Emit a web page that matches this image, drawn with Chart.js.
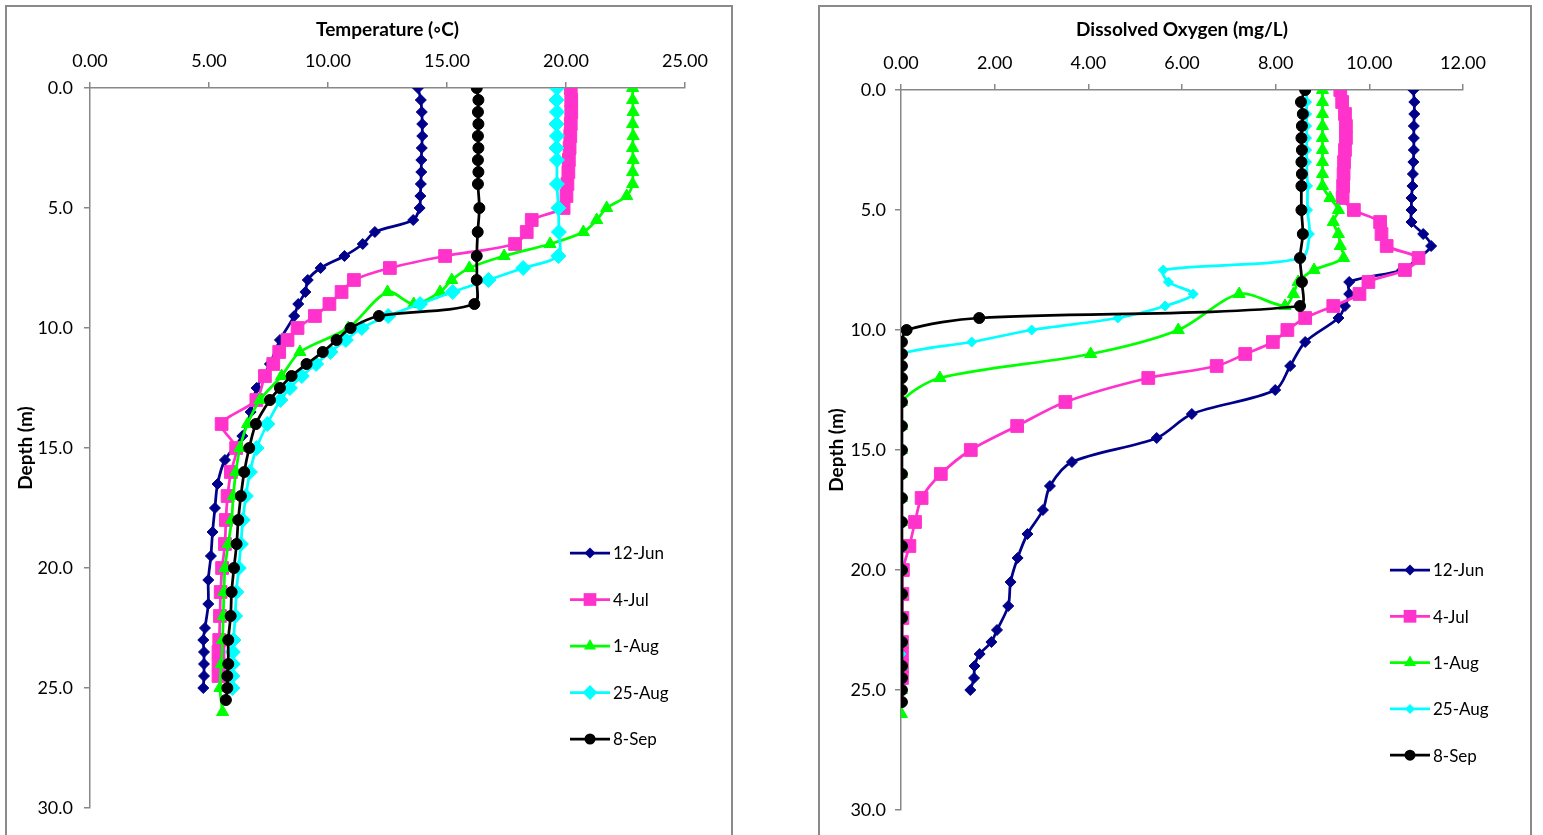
<!DOCTYPE html>
<html>
<head>
<meta charset="utf-8">
<script src="https://cdn.jsdelivr.net/npm/chart.js@4.4.1/dist/chart.umd.min.js"></script>
<style>
  body { margin: 0; background: #fff; width: 1543px; height: 835px; overflow: hidden; position: relative; }
  .box { position: absolute; top: 5px; height: 900px; border: 2px solid #8a8a8a; background: #fff; }
  #boxT { left: 5px; width: 724px; }
  #boxO { left: 818px; width: 710px; }
  canvas { display: block; }
</style>
</head>
<body>
<div class="box" id="boxT"><canvas id="tempChart" width="724" height="830"></canvas></div>
<div class="box" id="boxO"><canvas id="oxyChart" width="710" height="830"></canvas></div>
<script>
// sampling dates
const labels = ['12-Jun', '4-Jul', '1-Aug', '25-Aug', '8-Sep'];

// depths (m) of each profile
const depthJun12 = [0,0.5,1,1.5,2,2.5,3,3.5,4,4.5,5,5.5,6,6.5,7,7.5,8,8.5,9,9.5,
  10.5,11.5,12.5,13.5,14.5,15.5,16.5,17.5,18.5,19.5,20.5,21.5,22.5,23,23.5,24,24.5,25];
const depthJul4 = [0,0.5,1,1.5,2,2.5,3,3.5,4,4.5,5,5.5,6,6.5,7,7.5,8,8.5,9,9.5,10,10.5,11,11.5,12,
  13,14,15,16,17,18,19,20,21,22,23,23.5,24,24.5];
const depthAug1 = [0,0.5,1,1.5,2,2.5,3,3.5,4,4.5,5,5.5,6,6.5,7,7.5,8,8.5,9,8.5,
  10,11,12,13,14,15,16,17,18,19,20,21,22,23,24,25,26];
const depthAug25 = [0,0.5,1,1.5,2,2.5,3,4,5,6,7,7.5,8,8.5,9,9.5,10,10.5,11,11.5,12,12.5,13,
  14,15,16,17,18,19,20,21,22,23,23.5,24,24.5,25];
const depthSep8 = [0,0.5,1,1.5,2,2.5,3,3.5,4,5,6,7,8,9,9.5,10,10.5,11,11.5,12,12.5,13,
  14,15,16,17,18,19,20,21,22,23,24,24.5,25,25.5];

// temperature (C)
const tempJun12 = [13.78,13.9,13.94,13.96,13.96,13.94,13.92,13.92,13.9,13.88,13.85,13.58,11.97,11.46,10.69,9.69,9.15,9.05,8.75,8.58,
  7.98,7.56,7.0,6.75,6.4,5.67,5.36,5.25,5.15,5.08,4.97,4.97,4.83,4.76,4.79,4.79,4.79,4.76];
const tempJul4 = [20.2,20.22,20.22,20.2,20.18,20.15,20.12,20.1,20.06,20.02,19.9,18.56,18.35,17.86,14.92,12.6,11.09,10.57,10.06,9.45,8.72,8.3,7.95,7.7,7.35,
  6.99,5.53,6.14,5.92,5.78,5.71,5.67,5.55,5.49,5.46,5.43,5.4,5.4,5.4];
const tempAug1 = [22.8,22.8,22.82,22.8,22.82,22.8,22.82,22.8,22.8,22.55,21.71,21.29,20.73,19.33,17.4,15.94,15.2,14.71,13.6,12.5,
  10.85,8.82,8.05,7.14,6.62,6.3,6.13,6.02,5.95,5.81,5.67,5.63,5.6,5.57,5.52,5.46,5.57];
const tempAug25 = [19.62,19.6,19.62,19.6,19.62,19.6,19.62,19.62,19.68,19.7,19.68,18.2,16.74,15.24,13.87,12.53,11.42,10.75,10.1,9.5,8.9,8.4,8.0,
  7.45,7.0,6.72,6.55,6.42,6.34,6.25,6.15,6.1,6.03,6.0,6.0,5.98,5.98];
const tempSep8 = [16.25,16.32,16.3,16.32,16.3,16.32,16.3,16.32,16.3,16.36,16.29,16.25,16.25,16.15,12.14,10.95,10.36,9.78,9.1,8.47,7.98,7.56,
  6.97,6.69,6.48,6.34,6.23,6.16,6.05,5.95,5.91,5.81,5.81,5.77,5.77,5.71];

// dissolved oxygen (mg/L)
const doJun12 = [10.94,10.96,10.96,10.95,10.95,10.95,10.94,10.93,10.92,10.9,10.9,10.9,11.15,11.32,11.05,10.7,9.57,9.57,9.48,9.34,
  8.63,8.31,7.99,6.21,5.46,3.65,3.18,3.03,2.7,2.49,2.34,2.29,2.05,1.93,1.68,1.57,1.56,1.48];
const doJul4 = [9.38,9.42,9.48,9.5,9.5,9.48,9.46,9.45,9.44,9.43,9.67,10.23,10.26,10.37,11.05,10.76,9.98,9.79,9.23,8.63,8.25,7.94,7.35,6.74,5.28,
  3.51,2.48,1.49,0.85,0.44,0.3,0.18,0.04,0.03,0.03,0.02,0.02,0.02,0.02];
const doAug1 = [9.0,9.0,9.0,9.0,9.0,9.0,9.0,9.0,9.0,9.16,9.34,9.23,9.34,9.38,9.45,8.82,8.48,8.38,8.2,7.22,
  5.92,4.05,0.83,0.01,0.01,0.01,0.01,0.01,0.01,0.01,0.01,0.01,0.01,0.01,0.01,0.01,0.01];
const doAug25 = [8.66,8.66,8.66,8.66,8.66,8.66,8.66,8.68,8.68,8.72,8.55,5.6,5.71,6.24,5.64,4.63,2.79,1.51,0.0,0.0,0.0,0.0,0.0,
  0.0,0.0,0.0,0.0,0.0,0.0,0.0,0.0,0.0,0.0,0.0,0.0,0.0,0.0];
const doSep8 = [8.63,8.54,8.58,8.56,8.55,8.56,8.55,8.56,8.55,8.55,8.58,8.52,8.56,8.52,1.67,0.12,0.02,0.02,0.02,0.02,0.02,0.02,
  0.02,0.02,0.02,0.02,0.02,0.02,0.02,0.02,0.02,0.02,0.02,0.02,0.02,0.02];

const depths = [depthJun12, depthJul4, depthAug1, depthAug25, depthSep8];
const colors = ['#00008B', '#FF33CC', '#00FF00', '#00FFFF', '#000000'];
const markers = ['rectRot', 'rect', 'triangle', 'rectRot', 'circle'];

Chart.defaults.font.family = 'Lato, "Open Sans", sans-serif';
Chart.defaults.color = '#000';

function pts(d, v) {
  return d.map((y, i) => ({x: v[i], y: y}));
}

function drawMarker(ctx, style, x, y, r) {
  ctx.beginPath();
  if (style === 'circle') {
    ctx.arc(x, y, r, 0, Math.PI * 2);
  } else if (style === 'rect') {
    const s = Math.SQRT1_2 * r;
    ctx.rect(x - s, y - s, 2 * s, 2 * s);
  } else if (style === 'rectRot') {
    ctx.moveTo(x - r, y); ctx.lineTo(x, y - r); ctx.lineTo(x + r, y); ctx.lineTo(x, y + r);
  } else if (style === 'triangle') {
    let a = 0;
    ctx.moveTo(x + Math.sin(a) * r, y - Math.cos(a) * r);
    a += 2 * Math.PI / 3;
    ctx.lineTo(x + Math.sin(a) * r, y - Math.cos(a) * r);
    a += 2 * Math.PI / 3;
    ctx.lineTo(x + Math.sin(a) * r, y - Math.cos(a) * r);
  }
  ctx.closePath();
  ctx.fill();
}

// legend drawn inside the plot area, bottom right
const insideLegend = {
  id: 'insideLegend',
  afterDatasetsDraw(chart, args, opts) {
    const ctx = chart.ctx;
    ctx.save();
    chart.data.datasets.forEach((ds, i) => {
      const x = opts.left, y = opts.top + i * opts.step;
      ctx.strokeStyle = ds.borderColor;
      ctx.fillStyle = ds.borderColor;
      ctx.lineWidth = ds.borderWidth;
      ctx.beginPath();
      ctx.moveTo(x, y);
      ctx.lineTo(x + 40, y);
      ctx.stroke();
      drawMarker(ctx, ds.pointStyle, x + 20, y, ds.pointRadius);
      ctx.fillStyle = '#000';
      ctx.font = '17px Lato';
      ctx.textBaseline = 'middle';
      ctx.textAlign = 'left';
      ctx.fillText(ds.label, x + 43, y + 1);
    });
    ctx.restore();
  }
};

function makeDatasets(values, sizes) {
  return labels.map((lab, i) => ({
    label: lab,
    data: pts(depths[i], values[i]),
    showLine: true,
    borderColor: colors[i],
    backgroundColor: colors[i],
    pointBackgroundColor: colors[i],
    pointBorderColor: colors[i],
    pointBorderWidth: 1,
    borderWidth: 2.75,
    pointStyle: markers[i],
    pointRadius: sizes[i],
    tension: 0.3,
    order: labels.length - i,
  }));
}

function makeConfig(opt) {
  return {
    type: 'scatter',
    data: { datasets: makeDatasets(opt.values, opt.sizes) },
    options: {
      responsive: false,
      animation: false,
      events: [],
      layout: { padding: { left: 0, top: 0, right: opt.padRight, bottom: opt.padBottom } },
      plugins: {
        legend: { display: false },
        tooltip: { enabled: false },
        insideLegend: opt.legend,
      },
      scales: {
        x: {
          type: 'linear',
          position: 'top',
          min: 0,
          max: opt.xMax,
          afterFit: (s) => { s.height = opt.xHeight; },
          ticks: {
            stepSize: opt.xStep,
            padding: 10,
            font: { size: 18 },
            callback: (v) => v.toFixed(2),
          },
          grid: { drawOnChartArea: false, drawTicks: true, tickLength: 6, color: '#888', lineWidth: 1.5 },
          border: { display: true, color: '#888', width: 1.5 },
          title: {
            display: true,
            text: opt.xTitle,
            font: { size: 19, weight: 'bold' },
            padding: { top: 11, bottom: 0 },
          },
        },
        y: {
          type: 'linear',
          reverse: true,
          min: 0,
          max: 30,
          afterFit: (s) => { s.width = opt.yWidth; },
          ticks: {
            stepSize: 5,
            padding: opt.yPad,
            font: { size: 18 },
            callback: (v) => v.toFixed(1),
          },
          grid: { drawOnChartArea: false, drawTicks: true, tickLength: 6, color: '#888', lineWidth: 1.5 },
          border: { display: true, color: '#888', width: 1.5 },
          title: {
            display: true,
            text: 'Depth (m)',
            font: { size: 19, weight: 'bold' },
            padding: { top: opt.yTitlePad, bottom: 0 },
          },
        },
      },
    },
    plugins: [insideLegend],
  };
}

const tempChart = new Chart(document.getElementById('tempChart'), makeConfig({
  values: [tempJun12, tempJul4, tempAug1, tempAug25, tempSep8],
  sizes: [5.5, 9, 7, 7.5, 5.5],
  xMax: 25, xStep: 5, xTitle: 'Temperature (\u25E6C)',
  xHeight: 81, yWidth: 83, padRight: 46, padBottom: 29, yPad: 11, yTitlePad: 7,
  legend: { left: 563, top: 546, step: 46.5 },
}));

const oxyChart = new Chart(document.getElementById('oxyChart'), makeConfig({
  values: [doJun12, doJul4, doAug1, doAug25, doSep8],
  sizes: [5.5, 9, 7, 5, 5.5],
  xMax: 12, xStep: 2, xTitle: 'Dissolved Oxygen (mg/L)',
  xHeight: 83, yWidth: 81, padRight: 67, padBottom: 27, yPad: 9, yTitlePad: 5,
  legend: { left: 570, top: 563, step: 46.3 },
}));
</script>
</body>
</html>
